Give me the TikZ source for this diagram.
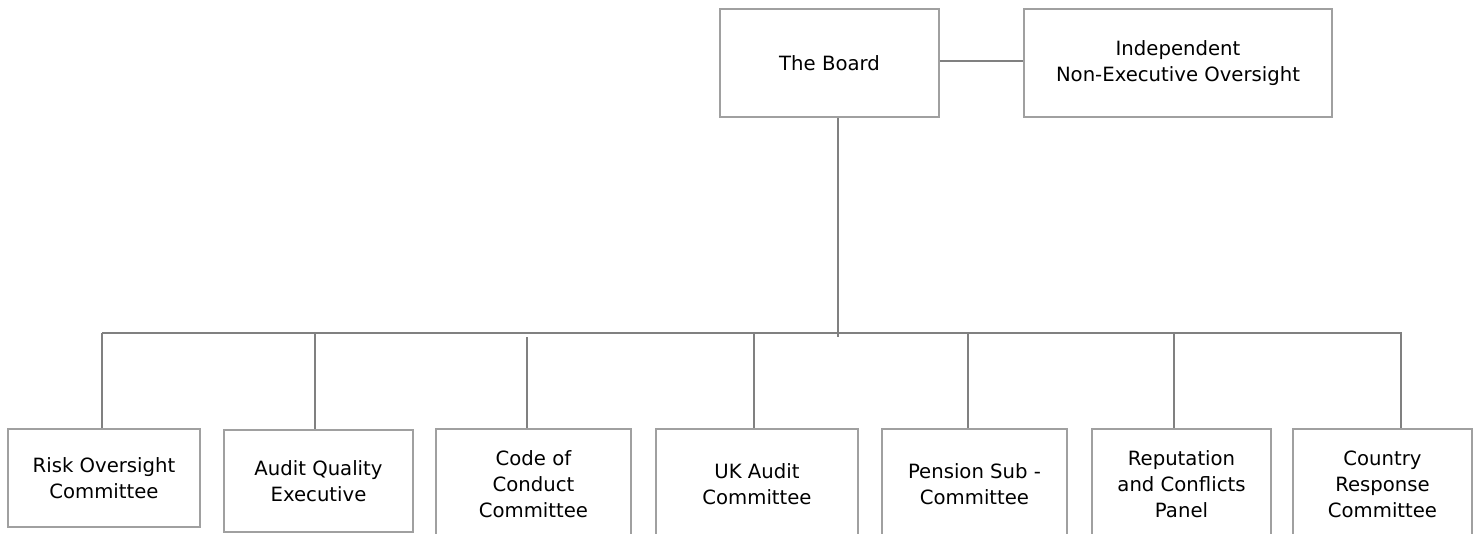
\documentclass[tikz,border=0pt]{standalone}
\usepackage{fontspec}
\setmainfont{DejaVu Sans}
\usepackage{xcolor}
\usetikzlibrary{positioning, calc}

\definecolor{boxgray}{RGB}{160,160,160}
\definecolor{linegray}{RGB}{128,128,128}

\begin{document}
\begin{tikzpicture}[x=0.75pt, y=-0.75pt,
        unit/.style={draw=boxgray, line width=1.2pt, fill=white, align=center,
            inner sep=0pt, font=\fontsize{14.75}{19.5}\selectfont},
        link/.style={draw=linegray, line width=1.5pt}]
        \useasboundingbox (0,0) rectangle (1480,533);
        \clip (0,0) rectangle (1480,533);

        % Top level
        \node[unit, minimum width=219*0.75pt, minimum height=108*0.75pt] (board) at (829.5,63) {The Board};
        \node[unit, minimum width=308*0.75pt, minimum height=108*0.75pt] (indep) at (1178,63) {Independent\\Non-Executive Oversight};
        \draw[link] (board.east |- 0,61) -- (indep.west |- 0,61);

        % Committees
        \node[unit, minimum width=192*0.75pt, minimum height=98*0.75pt] (risk) at (104,478) {Risk Oversight\\Committee};
        \node[unit, minimum width=189*0.75pt, minimum height=102*0.75pt] (aqe) at (318.5,481) {Audit Quality\\Executive};
        \node[unit, minimum width=195*0.75pt, minimum height=110*0.75pt] (conduct) at (533.5,484) {Code of\\Conduct\\Committee};
        \node[unit, minimum width=202*0.75pt, minimum height=110*0.75pt] (ukaudit) at (757,484) {UK Audit\\Committee};
        \node[unit, minimum width=185*0.75pt, minimum height=110*0.75pt] (pension) at (974.5,484) {Pension Sub -\\Committee};
        \node[unit, minimum width=179*0.75pt, minimum height=110*0.75pt] (reputation) at (1181.5,484) {Reputation\\and Conflicts\\Panel};
        \node[unit, minimum width=179*0.75pt, minimum height=110*0.75pt] (country) at (1382.5,484) {Country\\Response\\Committee};

        % Trunk and bus
        \coordinate (bus) at (838,333);
        \draw[link] (board.south -| bus) -- ($(bus)+(0,4)$);
        \draw[link] (102,333) -- (1402,333);

        % Drops
        \foreach \n/\x in {risk/102, aqe/315, ukaudit/754, pension/968, reputation/1174, country/1401} {
            \draw[link] (\x,333) -- (\n.north -| \x,0);
        }
        \draw[link] (527,337) -- (conduct.north -| 527,0);

    \end{tikzpicture}
\end{document}
